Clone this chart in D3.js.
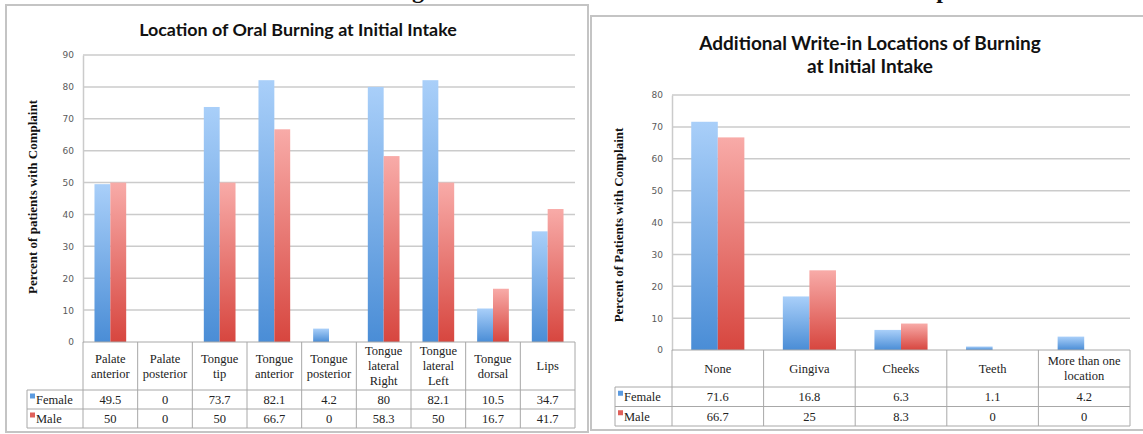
<!DOCTYPE html>
<html>
<head>
<meta charset="utf-8">
<script src="https://cdn.jsdelivr.net/npm/d3@7"></script>
<style>
  html, body { margin: 0; padding: 0; background: #fff; }
  svg { display: block; }
</style>
</head>
<body>
<svg id="fig" width="1143" height="434"></svg>
<script>
// ---- Data: oral burning locations at initial intake ----
const seriesNames = ["Female", "Male"];

const oralCategories = [
  "Palate\nanterior", "Palate\nposterior", "Tongue\ntip", "Tongue\nanterior",
  "Tongue\nposterior", "Tongue\nlateral\nRight", "Tongue\nlateral\nLeft",
  "Tongue\ndorsal", "Lips"
];
const oralFemale = [49.5, 0, 73.7, 82.1, 4.2, 80, 82.1, 10.5, 34.7];
const oralMale   = [50, 0, 50, 66.7, 0, 58.3, 50, 16.7, 41.7];
const oralTicks  = [0, 10, 20, 30, 40, 50, 60, 70, 80, 90];

// ---- Data: additional write-in locations ----
const writeInCategories = ["None", "Gingiva", "Cheeks", "Teeth", "More than one\nlocation"];
const writeInFemale = [71.6, 16.8, 6.3, 1.1, 4.2];
const writeInMale   = [66.7, 25, 8.3, 0, 0];
const writeInTicks  = [0, 10, 20, 30, 40, 50, 60, 70, 80];

const svg = d3.select("#fig");
const defs = svg.append("defs");

// Vertical gradients per series (light at top, saturated at bottom)
const gradStops = {
  Female: ["#a9cff9", "#4a8dd6"],
  Male:   ["#f8aba8", "#d7463f"]
};
seriesNames.forEach(s => {
  const g = defs.append("linearGradient")
    .attr("id", "grad-" + s)
    .attr("x1", 0).attr("y1", 0).attr("x2", 0).attr("y2", 1);
  g.append("stop").attr("offset", "0%").attr("stop-color", gradStops[s][0]);
  g.append("stop").attr("offset", "100%").attr("stop-color", gradStops[s][1]);
});
const legendColor = { Female: "#5b9be0", Male: "#e0605a" };

// Partial heading letters peeking in at the top edge
svg.append("text").attr("x", 418).attr("y", -2)
  .attr("font-family", "Liberation Serif").attr("font-weight", "bold")
  .attr("font-size", 24).attr("text-anchor", "middle").attr("fill", "#111").text("g");
svg.append("text").attr("x", 943).attr("y", -2)
  .attr("font-family", "Liberation Serif").attr("font-weight", "bold")
  .attr("font-size", 24).attr("text-anchor", "middle").attr("fill", "#111").text("p");

function drawChart(cfg) {
  const g = svg.append("g");

  // panel frame
  g.append("rect")
    .attr("x", cfg.frame[0]).attr("y", cfg.frame[1])
    .attr("width", cfg.frame[2]).attr("height", cfg.frame[3])
    .attr("fill", "#fff").attr("stroke", "#c4c4c4").attr("stroke-width", 2);

  // title
  const t = g.append("text")
    .attr("x", cfg.titleX).attr("y", cfg.titleY)
    .attr("text-anchor", "middle")
    .attr("font-family", "Lato, 'Open Sans', sans-serif")
    .attr("font-weight", "bold").attr("font-size", cfg.titleSize)
    .attr("fill", "#111");
  cfg.title.forEach((line, i) => {
    t.append("tspan").attr("x", cfg.titleX).attr("dy", i === 0 ? 0 : cfg.titleLine).text(line);
  });

  const y = d3.scaleLinear().domain([0, d3.max(cfg.ticks)]).range([cfg.y0, cfg.yTop]);
  const x0 = d3.scaleBand().domain(cfg.categories).range([cfg.xLeft, cfg.xRight]);
  const bw = x0.bandwidth();
  const x1 = d3.scaleBand().domain(seriesNames).range([bw * 0.21, bw * 0.79]);

  // gridlines
  g.append("g").selectAll("line").data(cfg.ticks.filter(d => d > 0)).join("line")
    .attr("x1", cfg.xLeft).attr("x2", cfg.xRight)
    .attr("y1", d => y(d)).attr("y2", d => y(d))
    .attr("stroke", "#cbcbcb").attr("stroke-width", 1.5);

  // value axis
  const axis = d3.axisLeft(y).tickValues(cfg.ticks).tickSize(0).tickPadding(9);
  const ax = g.append("g").attr("transform", `translate(${cfg.xLeft},0)`).call(axis);
  ax.select(".domain").attr("stroke", "#cbcbcb").attr("stroke-width", 1.5);
  ax.selectAll("text")
    .attr("font-family", "DejaVu Sans, Verdana, sans-serif")
    .attr("font-size", 9).attr("fill", "#5a5a5a");

  // axis title
  g.append("text")
    .attr("transform", `translate(${cfg.yTitleX},${cfg.yTitleY}) rotate(-90)`)
    .attr("text-anchor", "middle").attr("dy", "0.35em")
    .attr("font-family", "Liberation Serif, Times New Roman, serif")
    .attr("font-weight", "bold").attr("font-size", 13).attr("fill", "#111")
    .text(cfg.yTitle);

  // bars
  const rows = cfg.categories.map((c, i) => ({ cat: c, Female: cfg.female[i], Male: cfg.male[i] }));
  const grp = g.append("g").selectAll("g").data(rows).join("g")
    .attr("transform", d => `translate(${x0(d.cat)},0)`);
  grp.selectAll("rect")
    .data(d => seriesNames.map(s => ({ s, v: d[s] })).filter(e => e.v > 0))
    .join("rect")
    .attr("x", d => x1(d.s)).attr("width", x1.bandwidth())
    .attr("y", d => y(d.v)).attr("height", d => y(0) - y(d.v))
    .attr("fill", d => `url(#grad-${d.s})`);

  // data table under the plot
  const tb = g.append("g");
  const rowTop = cfg.y0;
  const rowCatBottom = cfg.y0 + cfg.catRowH;
  const rowFBottom = rowCatBottom + cfg.dataRowH;
  const rowMBottom = rowFBottom + cfg.dataRowH;
  const line = (x1_, y1_, x2_, y2_) => tb.append("line")
    .attr("x1", x1_).attr("y1", y1_).attr("x2", x2_).attr("y2", y2_)
    .attr("stroke", "#a8a8a8").attr("stroke-width", 1);

  line(cfg.xLeft, rowTop, cfg.xRight, rowTop);
  line(cfg.legendX, rowCatBottom, cfg.xRight, rowCatBottom);
  line(cfg.legendX, rowFBottom, cfg.xRight, rowFBottom);
  line(cfg.legendX, rowMBottom, cfg.xRight, rowMBottom);
  line(cfg.legendX, rowCatBottom, cfg.legendX, rowMBottom);
  cfg.categories.forEach(c => line(x0(c), rowTop, x0(c), rowMBottom));
  line(cfg.xRight, rowTop, cfg.xRight, rowMBottom);

  const serif = "Liberation Serif, Times New Roman, serif";
  const fs = 12.5;
  const lh = 15;
  cfg.categories.forEach(c => {
    const lines = c.split("\n");
    const cy = (rowTop + rowCatBottom) / 2;
    const first = cy - (lines.length - 1) * lh / 2;
    const txt = tb.append("text")
      .attr("text-anchor", "middle")
      .attr("font-family", serif).attr("font-size", fs).attr("fill", "#222");
    lines.forEach((l, i) => {
      txt.append("tspan").attr("x", x0(c) + bw / 2).attr("y", first + i * lh).attr("dy", "0.35em").text(l);
    });
  });

  const dataRows = [
    { name: "Female", vals: cfg.female, top: rowCatBottom, bot: rowFBottom },
    { name: "Male", vals: cfg.male, top: rowFBottom, bot: rowMBottom }
  ];
  dataRows.forEach(r => {
    const cy = (r.top + r.bot) / 2;
    tb.append("rect")
      .attr("x", cfg.legendX + 3).attr("y", cy - 6)
      .attr("width", 5).attr("height", 5)
      .attr("fill", legendColor[r.name]);
    tb.append("text")
      .attr("x", cfg.legendX + 9).attr("y", cy).attr("dy", "0.35em")
      .attr("font-family", serif).attr("font-size", fs).attr("fill", "#222")
      .text(r.name);
    cfg.categories.forEach((c, i) => {
      tb.append("text")
        .attr("x", x0(c) + bw / 2).attr("y", cy).attr("dy", "0.35em")
        .attr("text-anchor", "middle")
        .attr("font-family", serif).attr("font-size", fs).attr("fill", "#222")
        .text(String(r.vals[i]));
    });
  });
}

drawChart({
  frame: [6, 5, 582, 427],
  title: ["Location of Oral Burning at Initial Intake"],
  titleX: 298, titleY: 36, titleSize: 17.9, titleLine: 23,
  categories: oralCategories, female: oralFemale, male: oralMale, ticks: oralTicks,
  xLeft: 83, xRight: 575, yTop: 55, y0: 342,
  yTitle: "Percent of patients with Complaint", yTitleX: 32, yTitleY: 197,
  legendX: 27, catRowH: 48, dataRowH: 19
});

drawChart({
  frame: [591, 16, 560, 414],
  title: ["Additional Write-in Locations of Burning", "at Initial Intake"],
  titleX: 870, titleY: 50, titleSize: 19, titleLine: 23,
  categories: writeInCategories, female: writeInFemale, male: writeInMale, ticks: writeInTicks,
  xLeft: 672, xRight: 1130, yTop: 95, y0: 350,
  yTitle: "Percent of Patients with Complaint", yTitleX: 618, yTitleY: 225,
  legendX: 615, catRowH: 37, dataRowH: 19.5
});
</script>
</body>
</html>
